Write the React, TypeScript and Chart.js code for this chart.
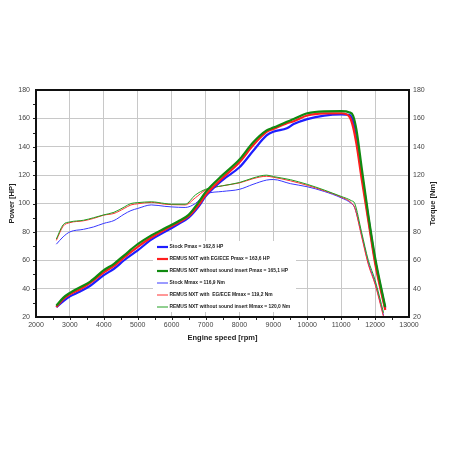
import React, { useEffect, useRef } from "react";
import { Chart, registerables } from "chart.js";

Chart.register(...registerables);

const powerRpm = [2600, 2800, 3000, 3300, 3600, 4000, 4300, 4600, 5000, 5400, 5800, 6200, 6500, 6800, 7000, 7500, 8000, 8400, 8800, 9000, 9400, 9600, 10000, 10500, 11000, 11250, 11350, 11450, 11600, 11800, 12000, 12300];
const stockPower = [27, 31, 34.5, 38, 42, 49.5, 54, 60, 67, 74.5, 80, 85.5, 90, 98, 105, 116.5, 125.5, 137, 148, 150.6, 153, 156, 159.5, 162, 162.8, 162.4, 158, 145, 122, 90, 60, 26];
const ecePower = [27, 32.5, 36, 39.5, 44, 51.5, 56, 62, 69.5, 76, 81.5, 86.5, 91, 99, 106, 118, 129, 141, 150.5, 152.5, 156.5, 158, 162, 163.5, 163.6, 161, 154, 142, 118, 88, 58, 25];
const noInsertPower = [28, 33.5, 37, 41, 45, 53, 57.5, 63.5, 71.3, 77.5, 82.5, 87.5, 92, 101, 108, 120, 131, 143, 151.5, 153.5, 157.6, 159.5, 163.6, 165, 165.1, 164.2, 162, 152, 126, 92, 62, 27];

const torqueRpm = [2600, 2800, 3000, 3400, 3700, 4000, 4300, 4600, 4800, 5000, 5400, 5800, 6000, 6400, 6700, 7000, 7500, 8000, 8400, 8800, 9000, 9500, 10000, 10500, 11000, 11300, 11400, 11600, 11800, 12000, 12250];
const stockTorque = [71.3, 76.5, 80, 81.8, 83.5, 86, 88, 92.5, 95, 96.5, 99, 98, 97.6, 97.2, 100, 106.5, 108.5, 110, 113.5, 116.5, 116.9, 114, 111.8, 108.5, 104, 100, 97, 78, 58, 44, 21];
const eceTorque = [74, 84, 86.5, 87.8, 89.5, 91.8, 93, 96.5, 99, 99.8, 100.8, 99.5, 99.2, 99, 104, 109.5, 112.5, 114.5, 117.5, 119.2, 118.5, 116, 112.8, 109, 104.5, 100.5, 97, 77, 57, 43, 20];
const noInsertTorque = [75, 85, 87, 88.2, 90, 92, 93.8, 97.5, 100, 100.6, 101.2, 100, 99.5, 99.5, 106, 110, 112.5, 114.8, 118, 120, 119, 116.8, 113.5, 109.5, 105, 102, 100, 80, 60, 46, 23];

const seriesLabels = [
  "Stock Pmax = 162,8 HP",
  "REMUS NXT with EG/ECE Pmax = 163,6 HP",
  "REMUS NXT without sound insert Pmax = 165,1 HP",
  "Stock Mmax = 116,9 Nm",
  "REMUS NXT with  EG/ECE Mmax = 119,2 Nm",
  "REMUS NXT without sound insert Mmax = 120,0 Nm",
];

const xTitle = "Engine speed [rpm]";
const yTitle = "Power [HP]";
const y1Title = "Torque [Nm]";

const BLUE = "#1e1eff";
const RED = "#ff1e1e";
const GREEN = "#108a10";
const FONT = "'Liberation Sans', Arial, sans-serif";

const toPts = (xs: number[], ys: number[]) => xs.map((x, i) => ({ x, y: ys[i] }));

const framePlugin = {
  id: "frameLegend",
  afterDatasetsDraw(chart: any) {
    const { ctx, chartArea: a, scales } = chart;
    ctx.save();
    ctx.strokeStyle = "#222";
    ctx.lineWidth = 1;
    for (let r = 2500; r < 13000; r += 500) {
      const px = Math.round(scales.x.getPixelForValue(r)) + 0.5;
      ctx.beginPath();
      ctx.moveTo(px, a.bottom);
      ctx.lineTo(px, a.bottom + 3);
      ctx.stroke();
    }
    for (let v = 30; v < 180; v += 10) {
      const py = Math.round(scales.y.getPixelForValue(v)) + 0.5;
      ctx.beginPath();
      ctx.moveTo(a.left - 3, py);
      ctx.lineTo(a.left, py);
      ctx.stroke();
    }
    ctx.strokeStyle = "#111";
    ctx.lineWidth = 2;
    ctx.strokeRect(a.left, a.top, a.right - a.left, a.bottom - a.top);
    // right axis title, reading bottom to top
    ctx.save();
    ctx.translate(a.right + 24, (a.top + a.bottom) / 2);
    ctx.rotate(-Math.PI / 2);
    ctx.font = `bold 7.5px ${FONT}`;
    ctx.fillStyle = "#222";
    ctx.textAlign = "center";
    ctx.textBaseline = "middle";
    ctx.fillText(y1Title, 0, 0);
    ctx.restore();
    // legend
    const bx = a.left + 117;
    const by = a.top + 151;
    ctx.fillStyle = "#ffffff";
    ctx.fillRect(bx, by, 143, 71);
    const ds = chart.data.datasets;
    ctx.font = `bold 4.9px ${FONT}`;
    ctx.textBaseline = "middle";
    ctx.textAlign = "left";
    for (let i = 0; i < ds.length; i++) {
      const yy = by + 6 + i * 12;
      ctx.strokeStyle = ds[i].borderColor;
      ctx.lineWidth = ds[i].borderWidth;
      ctx.beginPath();
      ctx.moveTo(bx + 4, yy);
      ctx.lineTo(bx + 15, yy);
      ctx.stroke();
      ctx.fillStyle = "#222";
      ctx.fillText(ds[i].label, bx + 16.5, yy);
    }
    ctx.restore();
  },
};

export default function App() {
  const ref = useRef<HTMLCanvasElement | null>(null);
  useEffect(() => {
    if (!ref.current) return;
    const mk = (label: string, data: any, color: string, w: number, axis: string, order: number) => ({
      label,
      data,
      borderColor: color,
      backgroundColor: color,
      borderWidth: w,
      pointRadius: 0,
      fill: false,
      tension: 0.35,
      cubicInterpolationMode: "monotone" as const,
      yAxisID: axis,
      order,
    });
    const tickFont = { size: 7, family: FONT };
    const chart = new Chart(ref.current, {
      type: "line",
      data: {
        datasets: [
          mk(seriesLabels[0], toPts(powerRpm, stockPower), BLUE, 2.2, "y", 3),
          mk(seriesLabels[1], toPts(powerRpm, ecePower), RED, 2.2, "y", 2),
          mk(seriesLabels[2], toPts(powerRpm, noInsertPower), GREEN, 2.2, "y", 1),
          mk(seriesLabels[3], toPts(torqueRpm, stockTorque), "#3838ff", 1, "y1", 6),
          mk(seriesLabels[4], toPts(torqueRpm, eceTorque), "#ff3030", 1, "y1", 5),
          mk(seriesLabels[5], toPts(torqueRpm, noInsertTorque), "#22a022", 1, "y1", 4),
        ],
      },
      options: {
        animation: false,
        responsive: true,
        maintainAspectRatio: false,
        layout: { padding: { top: 90, bottom: 105, left: 0, right: 0 } },
        plugins: { legend: { display: false }, tooltip: { enabled: false } },
        scales: {
          x: {
            type: "linear",
            min: 2000,
            max: 13000,
            ticks: { stepSize: 1000, color: "#444", font: tickFont, padding: 4, maxRotation: 0, callback: (v: any) => String(v) },
            grid: { color: "#c8c8c8", drawTicks: false },
            border: { display: false },
            title: { display: true, text: xTitle, color: "#222", font: { size: 7.5, weight: "bold", family: FONT }, padding: { top: 0, bottom: 4.5 } },
            afterFit: (s: any) => { s.height = 30; },
          },
          y: {
            position: "left",
            min: 20,
            max: 180,
            ticks: { stepSize: 20, color: "#444", font: tickFont, padding: 6, callback: (v: any) => String(v) },
            grid: { color: "#c8c8c8", drawTicks: false },
            border: { display: false },
            title: { display: true, text: yTitle, color: "#222", font: { size: 7.5, weight: "bold", family: FONT }, padding: { top: 7.5, bottom: 0 } },
            afterFit: (s: any) => { s.width = 36; },
          },
          y1: {
            position: "right",
            min: 20,
            max: 180,
            ticks: { stepSize: 20, color: "#444", font: tickFont, padding: 4, callback: (v: any) => String(v) },
            grid: { drawOnChartArea: false, drawTicks: false },
            border: { display: false },
            title: { display: false },
            afterFit: (s: any) => { s.width = 43; },
          },
        },
      },
      plugins: [framePlugin],
    });
    return () => chart.destroy();
  }, []);
  return (
    <div style={{ position: "absolute", left: 0, top: 0, width: 452, height: 452, background: "#fff" }}>
      <canvas ref={ref} />
    </div>
  );
}
